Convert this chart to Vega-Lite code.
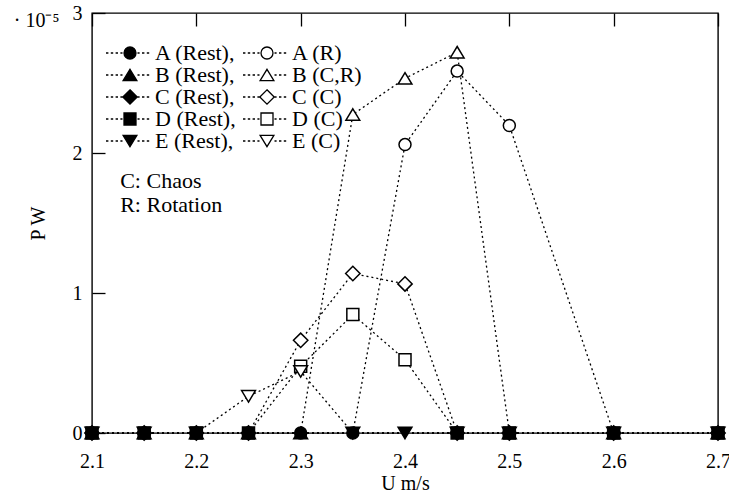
{
  "$schema": "https://vega.github.io/schema/vega-lite/v6.json",
  "width": 626,
  "height": 420,
  "autosize": {"type": "none"},
  "padding": {"left": 92, "top": 13, "right": 11, "bottom": 63},
  "config": {
    "view": {"stroke": "black", "strokeWidth": 1.4},
    "font": "Liberation Serif",
    "axis": {
      "domain": false,
      "ticks": false,
      "tickSize": 0,
      "grid": true,
      "gridColor": "black",
      "gridOpacity": 1,
      "gridWidth": 1.3,
      "zindex": 1,
      "labelColor": "black",
      "labelFont": "Liberation Serif",
      "labelFontSize": 20,
      "titleColor": "black",
      "titleFont": "Liberation Serif",
      "titleFontSize": 20,
      "titleFontWeight": "normal"
    }
  },
  "resolve": {
    "scale": {"shape": "independent", "fill": "independent", "stroke": "independent"},
    "axis": {"x": "independent", "y": "independent"}
  },
  "data": {
    "values": [
      {"s": "A (Rest)", "u": 2.1, "p": 0},
      {"s": "A (Rest)", "u": 2.15, "p": 0},
      {"s": "A (Rest)", "u": 2.2, "p": 0},
      {"s": "A (Rest)", "u": 2.25, "p": 0},
      {"s": "A (Rest)", "u": 2.3, "p": 0},
      {"s": "A (Rest)", "u": 2.35, "p": 0},
      {"s": "A (Rest)", "u": 2.6, "p": 0},
      {"s": "A (Rest)", "u": 2.7, "p": 0},
      {"s": "A (R)", "u": 2.35, "p": 0},
      {"s": "A (R)", "u": 2.4, "p": 2.06},
      {"s": "A (R)", "u": 2.45, "p": 2.585},
      {"s": "A (R)", "u": 2.5, "p": 2.197},
      {"s": "A (R)", "u": 2.6, "p": 0},
      {"s": "B (Rest)", "u": 2.1, "p": 0},
      {"s": "B (Rest)", "u": 2.15, "p": 0},
      {"s": "B (Rest)", "u": 2.2, "p": 0},
      {"s": "B (Rest)", "u": 2.25, "p": 0},
      {"s": "B (Rest)", "u": 2.3, "p": 0},
      {"s": "B (Rest)", "u": 2.5, "p": 0},
      {"s": "B (Rest)", "u": 2.6, "p": 0},
      {"s": "B (Rest)", "u": 2.7, "p": 0},
      {"s": "B (C,R)", "u": 2.3, "p": 0},
      {"s": "B (C,R)", "u": 2.35, "p": 2.275},
      {"s": "B (C,R)", "u": 2.4, "p": 2.533},
      {"s": "B (C,R)", "u": 2.45, "p": 2.72},
      {"s": "B (C,R)", "u": 2.5, "p": 0},
      {"s": "C (Rest)", "u": 2.1, "p": 0},
      {"s": "C (Rest)", "u": 2.15, "p": 0},
      {"s": "C (Rest)", "u": 2.2, "p": 0},
      {"s": "C (Rest)", "u": 2.25, "p": 0},
      {"s": "C (Rest)", "u": 2.45, "p": 0},
      {"s": "C (Rest)", "u": 2.5, "p": 0},
      {"s": "C (Rest)", "u": 2.6, "p": 0},
      {"s": "C (Rest)", "u": 2.7, "p": 0},
      {"s": "C (C)", "u": 2.25, "p": 0},
      {"s": "C (C)", "u": 2.3, "p": 0.662},
      {"s": "C (C)", "u": 2.35, "p": 1.139},
      {"s": "C (C)", "u": 2.4, "p": 1.065},
      {"s": "C (C)", "u": 2.45, "p": 0},
      {"s": "D (Rest)", "u": 2.1, "p": 0},
      {"s": "D (Rest)", "u": 2.15, "p": 0},
      {"s": "D (Rest)", "u": 2.2, "p": 0},
      {"s": "D (Rest)", "u": 2.25, "p": 0},
      {"s": "D (Rest)", "u": 2.45, "p": 0},
      {"s": "D (Rest)", "u": 2.5, "p": 0},
      {"s": "D (Rest)", "u": 2.6, "p": 0},
      {"s": "D (Rest)", "u": 2.7, "p": 0},
      {"s": "D (C)", "u": 2.25, "p": 0},
      {"s": "D (C)", "u": 2.3, "p": 0.476},
      {"s": "D (C)", "u": 2.35, "p": 0.846},
      {"s": "D (C)", "u": 2.4, "p": 0.524},
      {"s": "D (C)", "u": 2.45, "p": 0},
      {"s": "E (Rest)", "u": 2.1, "p": 0},
      {"s": "E (Rest)", "u": 2.15, "p": 0},
      {"s": "E (Rest)", "u": 2.2, "p": 0},
      {"s": "E (Rest)", "u": 2.35, "p": 0},
      {"s": "E (Rest)", "u": 2.4, "p": 0},
      {"s": "E (Rest)", "u": 2.45, "p": 0},
      {"s": "E (Rest)", "u": 2.5, "p": 0},
      {"s": "E (Rest)", "u": 2.6, "p": 0},
      {"s": "E (Rest)", "u": 2.7, "p": 0},
      {"s": "E (C)", "u": 2.2, "p": 0},
      {"s": "E (C)", "u": 2.25, "p": 0.262},
      {"s": "E (C)", "u": 2.3, "p": 0.44},
      {"s": "E (C)", "u": 2.35, "p": 0}
    ]
  },
  "layer": [
    {
      "mark": {"type": "line", "color": "black", "strokeWidth": 1.3, "strokeDash": [2, 3]},
      "encoding": {
        "x": {
          "field": "u",
          "type": "quantitative",
          "scale": {"domain": [2.1, 2.7], "nice": false, "zero": false},
          "axis": {
            "orient": "bottom",
            "title": "U m/s",
            "values": [2.1, 2.2, 2.3, 2.4, 2.5, 2.6, 2.7],
            "format": ".1f",
            "gridDash": [13, 3000],
            "labelPadding": 18,
            "labelFlush": false,
            "labelOverlap": false,
            "titleY": 50,
            "titleBaseline": "middle"
          }
        },
        "y": {
          "field": "p",
          "type": "quantitative",
          "scale": {"domain": [0, 3], "nice": false},
          "axis": {
            "orient": "left",
            "title": "P W",
            "values": [0, 1, 2, 3],
            "format": "d",
            "gridDash": [13, 3000],
            "labelPadding": 10,
            "labelFlush": false,
            "labelOverlap": false,
            "titleX": -54,
            "titleBaseline": "middle"
          }
        },
        "detail": {"field": "s"}
      }
    },
    {
      "transform": [{"filter": "datum.p > 0 || indexof(datum.s, 'Rest') >= 0"}],
      "mark": {"type": "point", "stroke": "black", "strokeWidth": 1.5, "opacity": 1, "size": 144},
      "encoding": {
        "x": {"field": "u", "type": "quantitative", "axis": null},
        "y": {"field": "p", "type": "quantitative", "axis": null},
        "shape": {
          "field": "s",
          "type": "nominal",
          "legend": null,
          "scale": {
            "domain": ["A (Rest)", "A (R)", "B (Rest)", "B (C,R)", "C (Rest)", "C (C)", "D (Rest)", "D (C)", "E (Rest)", "E (C)"],
            "range": ["circle", "circle", "M0,-0.95L1.15,0.95L-1.15,0.95Z", "M0,-0.95L1.15,0.95L-1.15,0.95Z", "M0,-1.2L1.2,0L0,1.2L-1.2,0Z", "M0,-1.2L1.2,0L0,1.2L-1.2,0Z", "square", "square", "M0,0.95L1.15,-0.95L-1.15,-0.95Z", "M0,0.95L1.15,-0.95L-1.15,-0.95Z"]
          }
        },
        "fill": {
          "field": "s",
          "type": "nominal",
          "legend": null,
          "scale": {
            "domain": ["A (Rest)", "A (R)", "B (Rest)", "B (C,R)", "C (Rest)", "C (C)", "D (Rest)", "D (C)", "E (Rest)", "E (C)"],
            "range": ["black", "white", "black", "white", "black", "white", "black", "white", "black", "white"]
          }
        }
      }
    },
    {
      "mark": {"type": "point", "opacity": 0, "size": 144, "strokeWidth": 1.3},
      "encoding": {
        "x": {
          "field": "u",
          "type": "quantitative",
          "axis": {
            "orient": "bottom",
            "title": null,
            "values": [2.15, 2.25, 2.35, 2.45, 2.55, 2.65],
            "labels": false,
            "gridDash": [7, 3000]
          }
        },
        "y": {
          "field": "p",
          "type": "quantitative",
          "axis": {
            "orient": "left",
            "title": null,
            "values": [0.5, 1.5, 2.5],
            "labels": false,
            "gridDash": [7, 3000]
          }
        },
        "shape": {
          "field": "s",
          "type": "nominal",
          "scale": {
            "domain": ["A (Rest)", "A (R)", "B (Rest)", "B (C,R)", "C (Rest)", "C (C)", "D (Rest)", "D (C)", "E (Rest)", "E (C)"],
            "range": [
              "M1,0C1,0.552,0.552,1,0,1C-0.552,1,-1,0.552,-1,0C-1,-0.552,-0.552,-1,0,-1C0.552,-1,1,-0.552,1,0ZM-4,0L-3.6,0M-3.2,0L-2.8,0M-2.4,0L-2,0M-1.6,0L-1.25,0M1.25,0L1.6,0M2,0L2.4,0M2.8,0L3.2,0",
              "M1,0C1,0.552,0.552,1,0,1C-0.552,1,-1,0.552,-1,0C-1,-0.552,-0.552,-1,0,-1C0.552,-1,1,-0.552,1,0ZM-4,0L-3.6,0M-3.2,0L-2.8,0M-2.4,0L-2,0M-1.6,0L-1.25,0M1.25,0L1.6,0M2,0L2.4,0M2.8,0L3.2,0",
              "M0,-0.95L1.15,0.95L-1.15,0.95ZM-4,0L-3.6,0M-3.2,0L-2.8,0M-2.4,0L-2,0M-1.6,0L-1.25,0M1.25,0L1.6,0M2,0L2.4,0M2.8,0L3.2,0",
              "M0,-0.95L1.15,0.95L-1.15,0.95ZM-4,0L-3.6,0M-3.2,0L-2.8,0M-2.4,0L-2,0M-1.6,0L-1.25,0M1.25,0L1.6,0M2,0L2.4,0M2.8,0L3.2,0",
              "M0,-1.2L1.2,0L0,1.2L-1.2,0ZM-4,0L-3.6,0M-3.2,0L-2.8,0M-2.4,0L-2,0M-1.6,0L-1.25,0M1.25,0L1.6,0M2,0L2.4,0M2.8,0L3.2,0",
              "M0,-1.2L1.2,0L0,1.2L-1.2,0ZM-4,0L-3.6,0M-3.2,0L-2.8,0M-2.4,0L-2,0M-1.6,0L-1.25,0M1.25,0L1.6,0M2,0L2.4,0M2.8,0L3.2,0",
              "M-1,-1L1,-1L1,1L-1,1ZM-4,0L-3.6,0M-3.2,0L-2.8,0M-2.4,0L-2,0M-1.6,0L-1.25,0M1.25,0L1.6,0M2,0L2.4,0M2.8,0L3.2,0",
              "M-1,-1L1,-1L1,1L-1,1ZM-4,0L-3.6,0M-3.2,0L-2.8,0M-2.4,0L-2,0M-1.6,0L-1.25,0M1.25,0L1.6,0M2,0L2.4,0M2.8,0L3.2,0",
              "M0,0.95L1.15,-0.95L-1.15,-0.95ZM-4,0L-3.6,0M-3.2,0L-2.8,0M-2.4,0L-2,0M-1.6,0L-1.25,0M1.25,0L1.6,0M2,0L2.4,0M2.8,0L3.2,0",
              "M0,0.95L1.15,-0.95L-1.15,-0.95ZM-4,0L-3.6,0M-3.2,0L-2.8,0M-2.4,0L-2,0M-1.6,0L-1.25,0M1.25,0L1.6,0M2,0L2.4,0M2.8,0L3.2,0"
            ]
          },
          "legend": {
            "title": null,
            "orient": "none",
            "legendX": 7,
            "legendY": 29,
            "direction": "horizontal",
            "columns": 2,
            "columnPadding": 0,
            "rowPadding": -2,
            "padding": 0,
            "symbolSize": 144,
            "symbolOffset": 20,
            "labelOffset": 14,
            "symbolOpacity": 1,
            "symbolStrokeColor": "black",
            "symbolStrokeWidth": 1.3,
            "labelFont": "Liberation Serif",
            "labelFontSize": 22,
            "labelColor": "black",
            "labelLimit": 300,
            "labelExpr": "indexof(datum.label, 'Rest') >= 0 ? datum.label + ',' : datum.label"
          }
        },
        "fill": {
          "field": "s",
          "type": "nominal",
          "scale": {
            "domain": ["A (Rest)", "A (R)", "B (Rest)", "B (C,R)", "C (Rest)", "C (C)", "D (Rest)", "D (C)", "E (Rest)", "E (C)"],
            "range": ["black", "white", "black", "white", "black", "white", "black", "white", "black", "white"]
          }
        },
        "stroke": {
          "field": "s",
          "type": "nominal",
          "scale": {
            "domain": ["A (Rest)", "A (R)", "B (Rest)", "B (C,R)", "C (Rest)", "C (C)", "D (Rest)", "D (C)", "E (Rest)", "E (C)"],
            "range": ["black", "black", "black", "black", "black", "black", "black", "black", "black", "black"]
          }
        }
      }
    },
    {
      "transform": [{"filter": "datum.s == 'A (R)' && datum.p > 2.5"}],
      "mark": {"type": "text", "align": "left", "baseline": "alphabetic", "fontSize": 22, "lineHeight": 24, "color": "black", "font": "Liberation Serif"},
      "encoding": {
        "x": {"datum": 2.127, "axis": null},
        "y": {"datum": 1.75, "axis": null},
        "text": {"value": ["C: Chaos", "R: Rotation"]}
      }
    },
    {
      "transform": [{"filter": "datum.s == 'A (R)' && datum.p > 2.5"}],
      "mark": {"type": "text", "align": "left", "baseline": "alphabetic", "fontSize": 20, "dy": 14, "color": "black", "font": "Liberation Serif"},
      "encoding": {
        "x": {"datum": 2.025, "axis": null},
        "y": {"datum": 3, "axis": null},
        "text": {"value": "· 10⁻⁵"}
      }
    }
  ]
}
